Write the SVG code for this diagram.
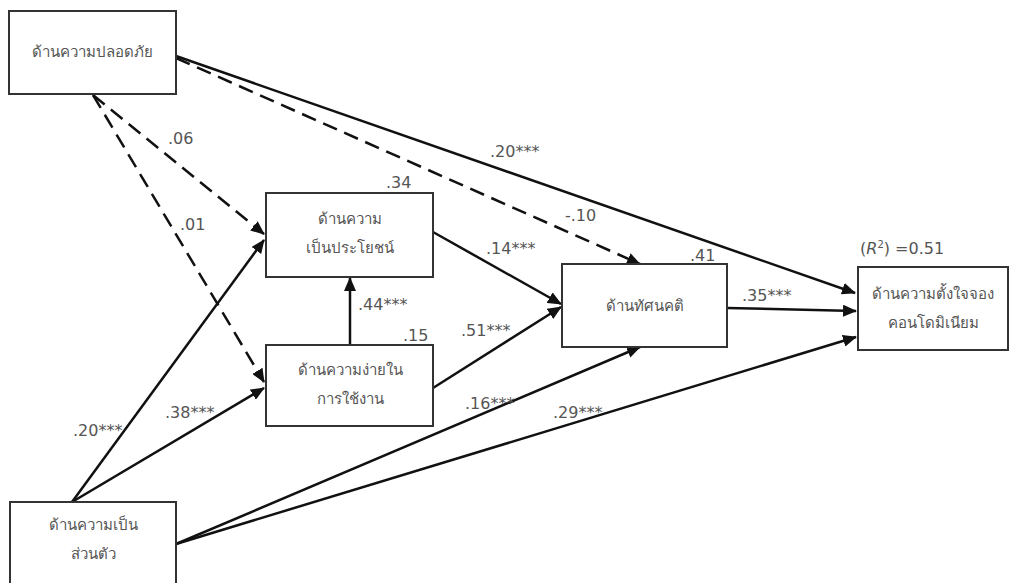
<svg xmlns="http://www.w3.org/2000/svg" width="1016" height="583" viewBox="0 0 1016 583">
<style>
.box{fill:#fff;stroke:#333;stroke-width:2}
.t{font-family:"Noto Sans","DejaVu Sans",sans-serif;font-size:15px;fill:#555;text-anchor:middle}
.n{font-family:"DejaVu Sans","Liberation Sans",sans-serif;font-size:16px;fill:#555}
.c{stroke:#111;stroke-width:2.5;fill:none}
.d{stroke-dasharray:15 8}
</style>
<defs>
<marker id="ah" markerUnits="userSpaceOnUse" markerWidth="14" markerHeight="12" refX="13" refY="6" orient="auto">
<path d="M0,0 L14,6 L0,12 Z" fill="#111"/>
</marker>
</defs>
<g id="connectors">
<line class="c" x1="176" y1="56" x2="855" y2="293" marker-end="url(#ah)"/>
<line class="c d" x1="176" y1="58" x2="640" y2="264" marker-end="url(#ah)"/>
<line class="c d" x1="93" y1="95" x2="264" y2="234" marker-end="url(#ah)"/>
<line class="c d" x1="93" y1="95" x2="264" y2="382" marker-end="url(#ah)"/>
<line class="c" x1="72" y1="502" x2="264" y2="240" marker-end="url(#ah)"/>
<line class="c" x1="72" y1="502" x2="264" y2="388" marker-end="url(#ah)"/>
<line class="c" x1="176" y1="544" x2="640" y2="347" marker-end="url(#ah)"/>
<line class="c" x1="176" y1="544" x2="856" y2="337" marker-end="url(#ah)"/>
<line class="c" x1="350" y1="345" x2="350" y2="278" marker-end="url(#ah)"/>
<line class="c" x1="433" y1="232" x2="561" y2="304" marker-end="url(#ah)"/>
<line class="c" x1="433" y1="388" x2="561" y2="307" marker-end="url(#ah)"/>
<line class="c" x1="727" y1="308" x2="856" y2="311" marker-end="url(#ah)"/>
</g>
<g id="n1"><rect class="box" x="9" y="11" width="167" height="83"/><text class="t" x="92" y="57">ด้านความปลอดภัย</text></g>
<g id="n2"><rect class="box" x="266" y="193" width="167" height="84"/><text class="t" x="350" y="224">ด้านความ</text><text class="t" x="350" y="253">เป็นประโยชน์</text></g>
<g id="n3"><rect class="box" x="266" y="345" width="167" height="81"/><text class="t" x="350" y="375">ด้านความง่ายใน</text><text class="t" x="350" y="404">การใช้งาน</text></g>
<g id="n4"><rect class="box" x="562" y="264" width="165" height="83"/><text class="t" x="645" y="311">ด้านทัศนคติ</text></g>
<g id="n5"><rect class="box" x="858" y="267" width="150" height="83"/><text class="t" x="933" y="299">ด้านความตั้งใจจอง</text><text class="t" x="933" y="328">คอนโดมิเนียม</text></g>
<g id="n6"><rect class="box" x="10" y="502" width="166" height="100"/><text class="t" x="93" y="530">ด้านความเป็น</text><text class="t" x="93" y="559">ส่วนตัว</text></g>
<g id="labels">
<text class="n" x="168" y="144">.06</text>
<text class="n" x="180" y="230">.01</text>
<text class="n" x="490" y="157">.20***</text>
<text class="n" x="565" y="221">-.10</text>
<text class="n" x="386" y="188">.34</text>
<text class="n" x="486" y="254">.14***</text>
<text class="n" x="358" y="310">.44***</text>
<text class="n" x="403" y="341">.15</text>
<text class="n" x="461" y="336">.51***</text>
<text class="n" x="690" y="261">.41</text>
<text class="n" x="742" y="301">.35***</text>
<text class="n" x="860" y="254">(<tspan font-style="italic">R</tspan><tspan font-size="10" dy="-6">2</tspan><tspan dy="6">) =0.51</tspan></text>
<text class="n" x="73" y="436">.20***</text>
<text class="n" x="165" y="418">.38***</text>
<text class="n" x="465" y="409">.16***</text>
<text class="n" x="553" y="418">.29***</text>
</g>
</svg>
